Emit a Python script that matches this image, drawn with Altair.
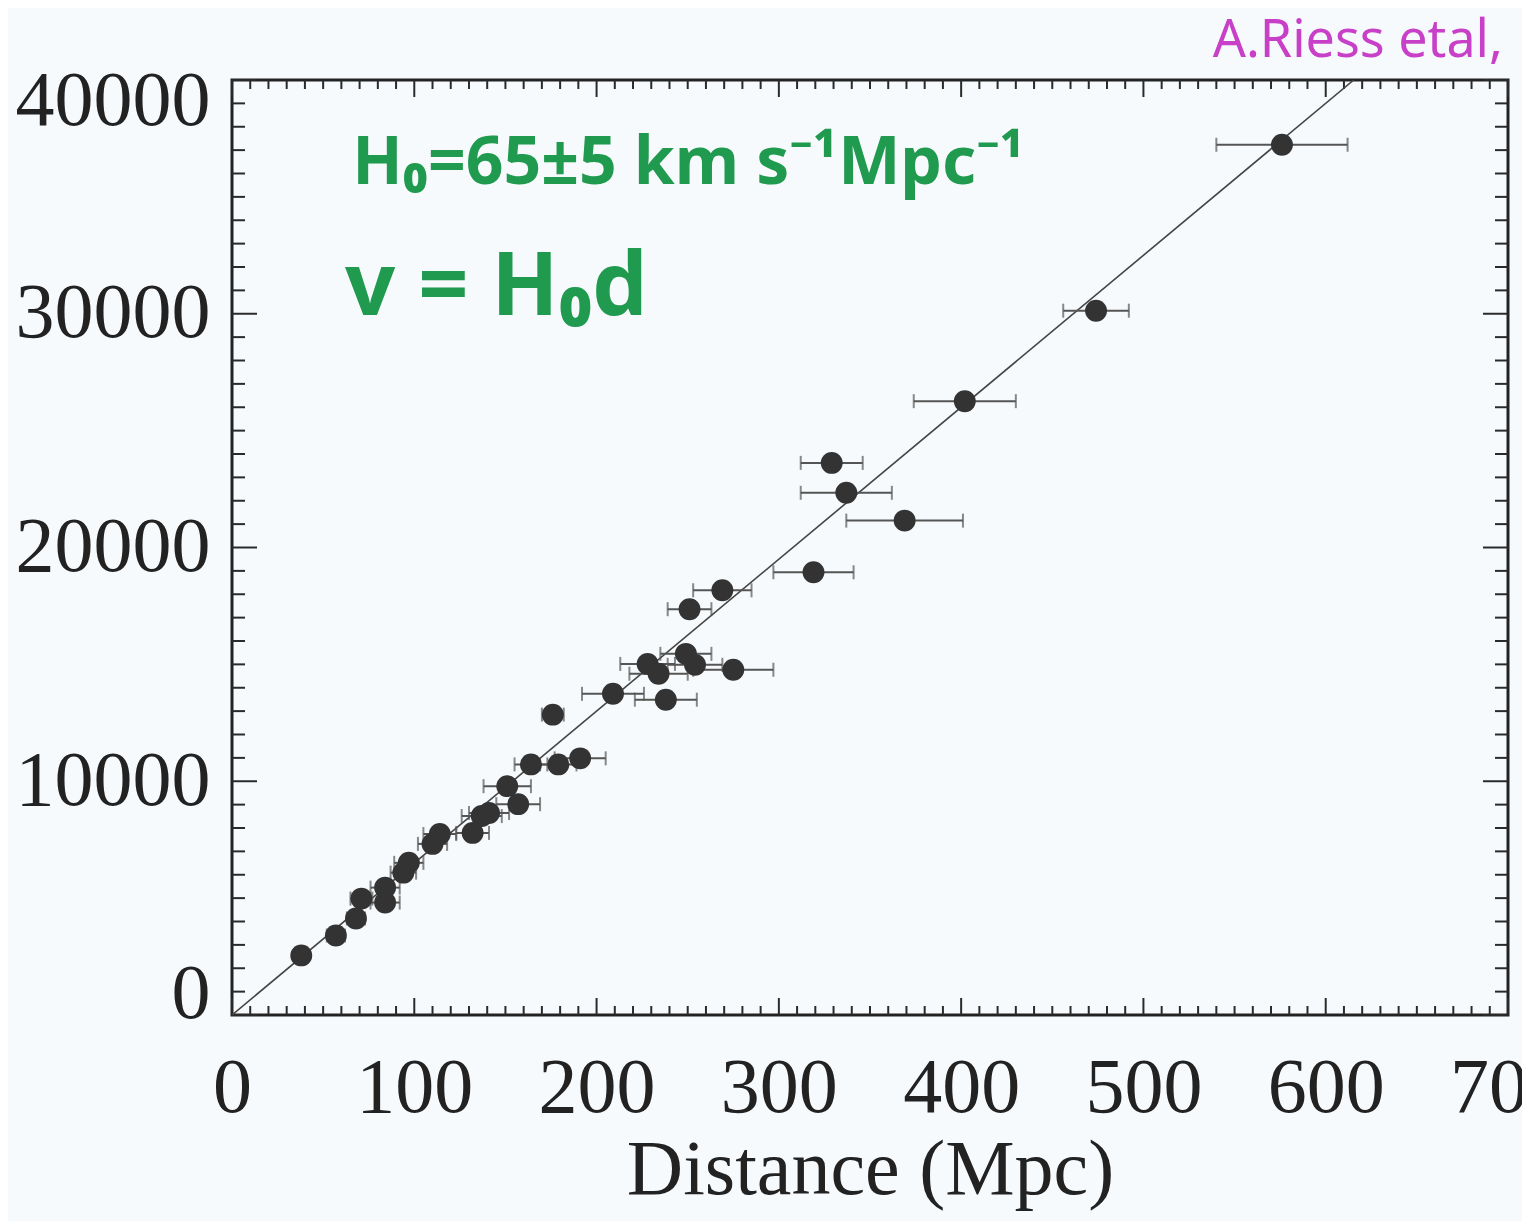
import altair as alt
import pandas as pd

# ---- data ----
dist = [38, 57, 68, 71, 84, 84, 94, 97, 110, 114, 132, 137, 141, 151, 157, 164, 179, 191,
        176, 209, 238, 228, 234, 249, 254, 275, 251, 269, 319, 369, 337, 329, 402, 474, 576]
vel = [2550, 3400, 4130, 4980, 5450, 4810, 6090, 6510, 7320, 7740, 7790, 8510, 8640, 9790,
       9020, 10720, 10720, 10980, 12850, 13740, 13490, 15020, 14600, 15450, 14980, 14770,
       17360, 18170, 18940, 21150, 22340, 23620, 26260, 30130, 37230]
derr = [4, 5, 5, 6, 8, 8, 7, 8, 8, 9, 9, 11, 11, 13, 12, 9, 10, 14,
        6, 17, 17, 15, 16, 14, 15, 22, 12, 16, 22, 32, 25, 17, 28, 18, 36]

H0 = 65
fit_d = [0, 40000 / H0]
fit_v = [0, 40000]

x_ticks = list(range(0, 701, 10))
y_ticks = list(range(0, 40001, 1000))

note_text = ["H\u2080=65\u00b15 km s\u207b\u00b9Mpc\u207b\u00b9", "v = H\u2080d"]
note_x = [66, 62]
note_y = [36400, 31060]
note_size = [66, 88]

credit_text = ["A.Riess etal,"]
credit_x = [538]
credit_y = [41650]

W, H = 1276, 935

df = pd.DataFrame({"d": dist, "v": vel, "err": derr})
df["lo"] = df["d"] - df["err"]
df["hi"] = df["d"] + df["err"]
fit = pd.DataFrame({"d": fit_d, "v": fit_v})
xt = pd.DataFrame({"t": x_ticks})
xt["major"] = xt["t"] % 100 == 0
yt = pd.DataFrame({"t": y_ticks})
yt["major"] = yt["t"] % 10000 == 0
notes = pd.DataFrame({"txt": note_text, "x": note_x, "y": note_y, "s": note_size})
credit = pd.DataFrame({"txt": credit_text, "x": credit_x, "y": credit_y})

xs = alt.Scale(domain=[0, 700], nice=False, zero=False)
ys = alt.Scale(domain=[0, 40000], nice=False, zero=False)

xaxis = alt.Axis(values=list(range(0, 701, 100)), format="d", labelFlush=False,
                 labelPadding=34, titlePadding=4, labelOverlap=False, labelLimit=0)
yaxis = alt.Axis(values=list(range(0, 40001, 10000)), format="d", labelFlush=True,
                 labelFlushOffset=18, labelPadding=22, labelOverlap=False, labelLimit=0)

base = alt.Chart(df)

points = base.mark_circle(size=480, color="#333333", opacity=1).encode(
    x=alt.X("d:Q", scale=xs, axis=xaxis, title="Distance (Mpc)"),
    y=alt.Y("v:Q", scale=ys, axis=yaxis, title=None),
)
bars = base.mark_rule(color="#555555", strokeWidth=2).encode(
    x=alt.X("lo:Q", scale=xs), x2="hi:Q", y=alt.Y("v:Q", scale=ys))
cap_lo = base.mark_tick(orient="vertical", color="#555555", size=14, thickness=2).encode(
    x=alt.X("lo:Q", scale=xs), y=alt.Y("v:Q", scale=ys))
cap_hi = base.mark_tick(orient="vertical", color="#555555", size=14, thickness=2).encode(
    x=alt.X("hi:Q", scale=xs), y=alt.Y("v:Q", scale=ys))

line = alt.Chart(fit).mark_line(color="#444444", strokeWidth=1.6, clip=True).encode(
    x=alt.X("d:Q", scale=xs), y=alt.Y("v:Q", scale=ys))

tick_col = "#2a2a2a"
def xtick_layer(major, at_bottom):
    L = 17 if major else 9
    y0 = H if at_bottom else 0
    y1 = H - L if at_bottom else L
    return alt.Chart(xt).transform_filter(
        alt.datum.major if major else ~alt.datum.major
    ).mark_rule(color=tick_col, strokeWidth=2).encode(
        x=alt.X("t:Q", scale=xs), y=alt.value(y0), y2=alt.value(y1))

def ytick_layer(major, at_left):
    L = 25 if major else 13
    x0 = 0 if at_left else W
    x1 = L if at_left else W - L
    return alt.Chart(yt).transform_filter(
        alt.datum.major if major else ~alt.datum.major
    ).mark_rule(color=tick_col, strokeWidth=2).encode(
        y=alt.Y("t:Q", scale=ys), x=alt.value(x0), x2=alt.value(x1))

ticks = [xtick_layer(m, b) for m in (True, False) for b in (True, False)] + \
        [ytick_layer(m, l) for m in (True, False) for l in (True, False)]

note_layers = []
for i in range(len(note_text)):
    note_layers.append(
        alt.Chart(notes.iloc[[i]]).mark_text(
            align="left", baseline="middle", font="Noto Sans", fontWeight="bold",
            fontSize=note_size[i], color="#1f9a4e"
        ).encode(x=alt.X("x:Q", scale=xs), y=alt.Y("y:Q", scale=ys), text="txt:N")
    )

credit_layer = alt.Chart(credit).mark_text(
    align="left", baseline="middle", font="Noto Sans", fontSize=52, color="#c83fc8"
).encode(x=alt.X("x:Q", scale=xs), y=alt.Y("y:Q", scale=ys), text="txt:N")

chart = alt.layer(
    *ticks, line, bars, cap_lo, cap_hi, points, *note_layers, credit_layer
).properties(
    width=W, height=H,
    autosize=alt.AutoSizeParams(type="none"),
    padding={"left": 224, "top": 72, "right": 14, "bottom": 206},
    background="#f7fafc",
).configure_view(
    stroke="#222222", strokeWidth=3
).configure_axis(
    grid=False, ticks=False, domain=False,
    labelFont="Liberation Serif", labelFontSize=78, labelColor="#222222",
    titleFont="Liberation Serif", titleFontSize=78, titleColor="#222222",
    titleFontWeight="normal",
)

chart.save("out.html", embed_options={"renderer": "svg", "actions": False})
